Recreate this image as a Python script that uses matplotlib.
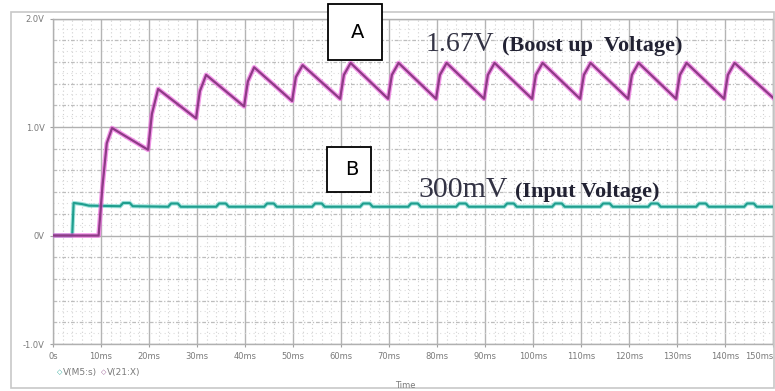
import matplotlib
matplotlib.use("Agg")
import matplotlib.pyplot as plt
from matplotlib.patches import Rectangle
import numpy as np

# ---- data ----
boost_t = [0, 9.5, 10.3, 11.2, 12.3, 19.8, 20.6, 21.9, 29.8, 30.6, 31.9, 39.8, 40.6, 41.9,
           49.8, 50.6, 52.0, 59.8, 60.6, 62.0, 69.8, 70.6, 72.0, 79.8, 80.6, 82.0,
           89.8, 90.6, 92.0, 99.8, 100.6, 102.0, 109.8, 110.6, 112.0, 119.8, 120.6, 122.0,
           129.8, 130.6, 132.0, 139.8, 140.6, 142.0, 150.0]
boost_v = [0.0, 0.0, 0.45, 0.85, 0.99, 0.79, 1.12, 1.35, 1.08, 1.33, 1.48, 1.19, 1.42, 1.55,
           1.24, 1.46, 1.57, 1.26, 1.48, 1.59, 1.26, 1.48, 1.59, 1.26, 1.48, 1.59,
           1.26, 1.48, 1.59, 1.26, 1.48, 1.59, 1.26, 1.48, 1.59, 1.26, 1.48, 1.59,
           1.26, 1.48, 1.59, 1.26, 1.48, 1.59, 1.27]

input_t = [0, 4.0, 4.3, 6.0, 7.5, 14.0, 14.6, 16.0, 16.6, 24.0, 24.6, 26.0, 26.6,
           34.0, 34.6, 36.0, 36.6, 44.0, 44.6, 46.0, 46.6, 54.0, 54.6, 56.0, 56.6,
           64.0, 64.6, 66.0, 66.6, 74.0, 74.6, 76.0, 76.6, 84.0, 84.6, 86.0, 86.6,
           94.0, 94.6, 96.0, 96.6, 104.0, 104.6, 106.0, 106.6, 114.0, 114.6, 116.0, 116.6,
           124.0, 124.6, 126.0, 126.6, 134.0, 134.6, 136.0, 136.6, 144.0, 144.6, 146.0, 146.6, 150.0]
input_v = [0.0, 0.0, 0.30, 0.29, 0.275, 0.27, 0.30, 0.30, 0.27, 0.265, 0.295, 0.295, 0.265,
           0.265, 0.295, 0.295, 0.265, 0.265, 0.295, 0.295, 0.265, 0.265, 0.295, 0.295, 0.265,
           0.265, 0.295, 0.295, 0.265, 0.265, 0.295, 0.295, 0.265, 0.265, 0.295, 0.295, 0.265,
           0.265, 0.295, 0.295, 0.265, 0.265, 0.295, 0.295, 0.265, 0.265, 0.295, 0.295, 0.265,
           0.265, 0.295, 0.295, 0.265, 0.265, 0.295, 0.295, 0.265, 0.265, 0.295, 0.295, 0.265, 0.265]

x_ticks = list(range(0, 151, 10))
x_labels = ["0s"] + [f"{v}ms" for v in range(10, 151, 10)]
y_ticks = [-1.0, 0.0, 1.0, 2.0]
y_labels = ["-1.0V", "0V", "1.0V", "2.0V"]

W, H = 775, 391
fig = plt.figure(figsize=(W / 100, H / 100), dpi=100)
fig.patch.set_facecolor("white")

# outer frame
fig.add_artist(Rectangle((11 / W, 1 - 388 / H), (774 - 11) / W, (388 - 12) / H,
                         transform=fig.transFigure, fill=False, edgecolor="#c8c8c8", lw=1.2))

ax = fig.add_axes([53 / W, 1 - 344 / H, (773 - 53) / W, (344 - 18.5) / H])
ax.set_xlim(0, 150)
ax.set_ylim(-1.0, 2.0)

# grid
for xv in np.arange(0, 151, 2):
    if xv % 10 == 0:
        ax.axvline(xv, color="#b4b4b4", lw=1.0, zorder=0)
    else:
        ax.axvline(xv, color="#d0d0d0", lw=0.8, ls=(0, (1, 2.5)), zorder=0)
for yv in np.round(np.arange(-1.0, 2.01, 0.1), 2):
    if abs(yv - round(yv)) < 1e-6:
        ax.axhline(yv, color="#b0b0b0", lw=1.0, zorder=0)
    elif abs(yv * 10 % 2) < 1e-6 or abs(yv * 10 % 2 - 2) < 1e-6:
        ax.axhline(yv, color="#bdbdbd", lw=0.9, ls=(0, (3, 1.5, 1, 1.5)), zorder=0)
    else:
        ax.axhline(yv, color="#dcdcdc", lw=0.8, ls=(0, (1, 3)), zorder=0)

for s in ax.spines.values():
    s.set_color("#b0b0b0")
    s.set_linewidth(1.0)

ax.set_xticks(x_ticks)
ax.set_xticklabels(x_labels, fontsize=6, color="#7a7a7a")
ax.get_xticklabels()[-1].set_horizontalalignment("right")
ax.set_yticks(y_ticks)
ax.set_yticklabels(y_labels, fontsize=6, color="#7a7a7a")
ax.tick_params(length=2, color="#a0a0a0", pad=4)

# traces
ax.plot(input_t, input_v, color="#5fd0c4", lw=3.0, alpha=0.6, zorder=3)
ax.plot(input_t, input_v, color="#1f9e8e", lw=1.5, zorder=4)
ax.plot(boost_t, boost_v, color="#ee55dd", lw=3.4, alpha=0.6, zorder=5)
ax.plot(boost_t, boost_v, color="#8e3a86", lw=1.6, zorder=6)

# annotation boxes
for (x0, y0, x1, y1, letter) in [(328, 4, 382, 60, "A"), (327, 147, 371, 192, "B")]:
    fig.add_artist(Rectangle((x0 / W, 1 - y1 / H), (x1 - x0) / W, (y1 - y0) / H,
                             transform=fig.transFigure, facecolor="white",
                             edgecolor="black", lw=1.3, zorder=10))
    fig.text((x0 + x1) / 2 / W + 0.003, 1 - (y0 + y1) / 2 / H, letter, ha="center", va="center",
             fontsize=14, family="DejaVu Sans", zorder=11)

fig.text(426 / W, 1 - 51 / H, "1.67V", ha="left", va="baseline", fontsize=20,
         family="Liberation Serif", color="#333344", zorder=11)
fig.text(502 / W, 1 - 51 / H, "(Boost up  Voltage)", ha="left", va="baseline", fontsize=16,
         family="Liberation Serif", weight="bold", color="#222233", zorder=11)
fig.text(418 / W, 1 - 197 / H, "300mV", ha="left", va="baseline", fontsize=21.5,
         family="Liberation Serif", color="#333344", zorder=11)
fig.text(515 / W, 1 - 197 / H, "(Input Voltage)", ha="left", va="baseline", fontsize=16,
         family="Liberation Serif", weight="bold", color="#222233", zorder=11)

# legend-like labels and axis title
fig.text(57 / W, 1 - 372 / H, "\u25c7", fontsize=5, color="#2aa898", va="center")
fig.text(63 / W, 1 - 372 / H, "V(M5:s)", fontsize=6.5, color="#7a7a7a", va="center")
fig.text(101 / W, 1 - 372 / H, "\u25c7", fontsize=5, color="#9a5a94", va="center")
fig.text(107 / W, 1 - 372 / H, "V(21:X)", fontsize=6.5, color="#7a7a7a", va="center")
fig.text(405 / W, 1 - 385 / H, "Time", fontsize=6, color="#7a7a7a", va="center", ha="center")

fig.savefig("out.png", dpi=100, facecolor="white")
